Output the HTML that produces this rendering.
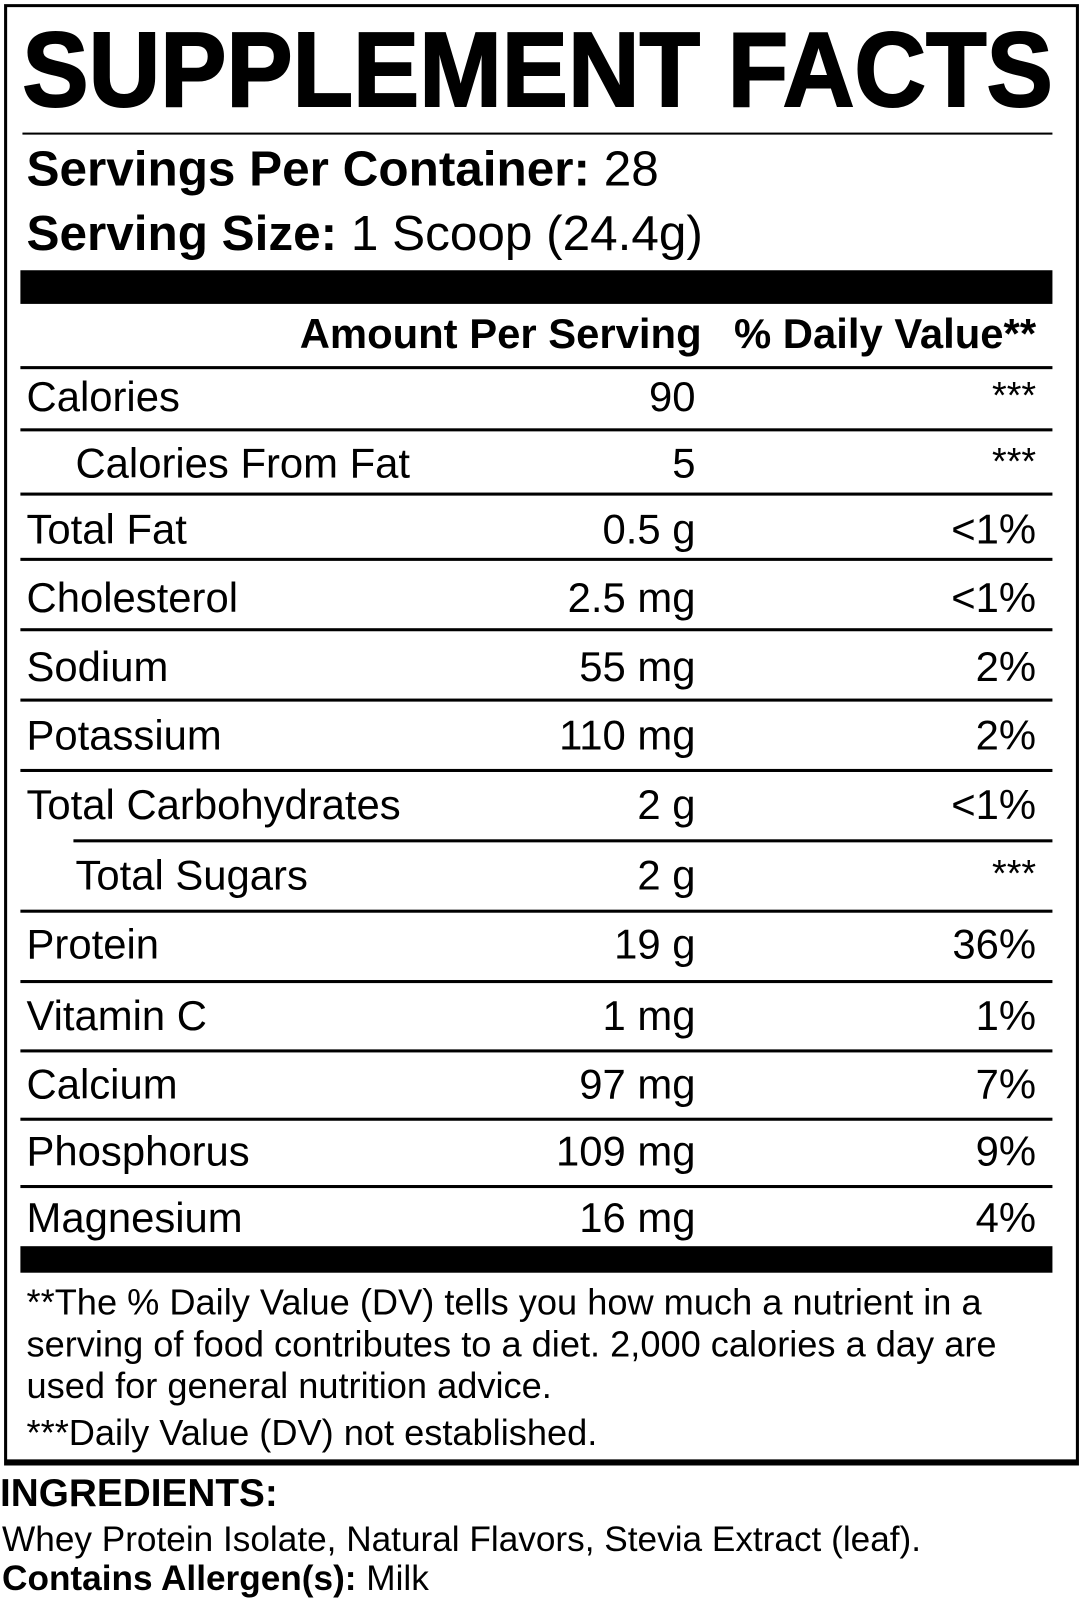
<!DOCTYPE html>
<html><head><meta charset="utf-8"><style>
html,body{margin:0;padding:0;background:#fff;}
body{width:1080px;height:1599px;overflow:hidden;position:relative;}
#c{position:absolute;left:0;top:0;width:1059px;height:1568px;transform:scale(1.0198);transform-origin:0 0;font-family:"Liberation Sans",Arial,sans-serif;color:#000;}
.t{position:absolute;line-height:1;white-space:nowrap;}
.ln{position:absolute;background:#000;height:3px;}
.r{font-size:41px;}
.a{position:absolute;line-height:1;font-size:41px;text-align:right;white-space:nowrap;}
.s{font-size:37px !important;}
</style></head><body><div id="c">
<div style="position:absolute;left:4px;top:4px;width:1048px;height:1424px;border:3px solid #000;border-bottom-width:6px;"></div>
<div class="t" style="left:22px;top:17px;font-size:104px;font-weight:bold;-webkit-text-stroke:2px #000;transform:scaleX(0.935);transform-origin:0 0;">SUPPLEMENT FACTS</div>
<div class="ln" style="left:22px;top:130px;width:1010px;height:2px;"></div>
<div class="t" style="left:26px;top:142px;font-size:48.5px;"><b>Servings Per Container:</b> 28</div>
<div class="t" style="left:26px;top:205px;font-size:48.5px;"><b>Serving Size:</b> 1 Scoop (24.4g)</div>
<div class="ln" style="left:20px;top:265px;width:1012px;height:33px;"></div>
<div class="t" style="left:0;width:688px;text-align:right;top:307px;font-size:41px;font-weight:bold;">Amount Per Serving</div>
<div class="t" style="left:0;width:1016px;text-align:right;top:307px;font-size:41px;font-weight:bold;">% Daily Value**</div>
<div class="ln" style="left:20px;top:359px;width:1012px;"></div>

<div class="t r" style="left:26px;top:369px;">Calories</div><div class="a" style="left:0;width:682px;top:369px;">90</div><div class="a s" style="left:0;width:1016px;top:369px;">***</div>
<div class="ln" style="left:20px;top:420px;width:1012px;"></div>
<div class="t r" style="left:74px;top:434px;">Calories From Fat</div><div class="a" style="left:0;width:682px;top:434px;">5</div><div class="a s" style="left:0;width:1016px;top:434px;">***</div>
<div class="ln" style="left:20px;top:483px;width:1012px;"></div>
<div class="t r" style="left:26px;top:499px;">Total Fat</div><div class="a" style="left:0;width:682px;top:499px;">0.5 g</div><div class="a" style="left:0;width:1016px;top:499px;">&lt;1%</div>
<div class="ln" style="left:20px;top:547px;width:1012px;"></div>
<div class="t r" style="left:26px;top:566px;">Cholesterol</div><div class="a" style="left:0;width:682px;top:566px;">2.5 mg</div><div class="a" style="left:0;width:1016px;top:566px;">&lt;1%</div>
<div class="ln" style="left:20px;top:616px;width:1012px;"></div>
<div class="t r" style="left:26px;top:634px;">Sodium</div><div class="a" style="left:0;width:682px;top:634px;">55 mg</div><div class="a" style="left:0;width:1016px;top:634px;">2%</div>
<div class="ln" style="left:20px;top:685px;width:1012px;"></div>
<div class="t r" style="left:26px;top:701px;">Potassium</div><div class="a" style="left:0;width:682px;top:701px;">110 mg</div><div class="a" style="left:0;width:1016px;top:701px;">2%</div>
<div class="ln" style="left:20px;top:754px;width:1012px;"></div>
<div class="t r" style="left:26px;top:769px;">Total Carbohydrates</div><div class="a" style="left:0;width:682px;top:769px;">2 g</div><div class="a" style="left:0;width:1016px;top:769px;">&lt;1%</div>
<div class="ln" style="left:72px;top:823px;width:960px;"></div>
<div class="t r" style="left:74px;top:838px;">Total Sugars</div><div class="a" style="left:0;width:682px;top:838px;">2 g</div><div class="a s" style="left:0;width:1016px;top:838px;">***</div>
<div class="ln" style="left:20px;top:892px;width:1012px;"></div>
<div class="t r" style="left:26px;top:906px;">Protein</div><div class="a" style="left:0;width:682px;top:906px;">19 g</div><div class="a" style="left:0;width:1016px;top:906px;">36%</div>
<div class="ln" style="left:20px;top:961px;width:1012px;"></div>
<div class="t r" style="left:26px;top:976px;">Vitamin C</div><div class="a" style="left:0;width:682px;top:976px;">1 mg</div><div class="a" style="left:0;width:1016px;top:976px;">1%</div>
<div class="ln" style="left:20px;top:1029px;width:1012px;"></div>
<div class="t r" style="left:26px;top:1043px;">Calcium</div><div class="a" style="left:0;width:682px;top:1043px;">97 mg</div><div class="a" style="left:0;width:1016px;top:1043px;">7%</div>
<div class="ln" style="left:20px;top:1096px;width:1012px;"></div>
<div class="t r" style="left:26px;top:1109px;">Phosphorus</div><div class="a" style="left:0;width:682px;top:1109px;">109 mg</div><div class="a" style="left:0;width:1016px;top:1109px;">9%</div>
<div class="ln" style="left:20px;top:1162px;width:1012px;"></div>
<div class="t r" style="left:26px;top:1174px;">Magnesium</div><div class="a" style="left:0;width:682px;top:1174px;">16 mg</div><div class="a" style="left:0;width:1016px;top:1174px;">4%</div>
<div class="ln" style="left:20px;top:1222px;width:1012px;height:26px;"></div>

<div class="t" style="left:26px;top:1260px;font-size:35.5px;">**The % Daily Value (DV) tells you how much a nutrient in a</div>
<div class="t" style="left:26px;top:1301px;font-size:35.5px;">serving of food contributes to a diet. 2,000 calories a day are</div>
<div class="t" style="left:26px;top:1342px;font-size:35.5px;">used for general nutrition advice.</div>
<div class="t" style="left:26px;top:1388px;font-size:35.5px;">***Daily Value (DV) not established.</div>

<div class="t" style="left:0;top:1446px;font-size:38px;font-weight:bold;">INGREDIENTS:</div>
<div class="t" style="left:2px;top:1493px;font-size:34.5px;">Whey Protein Isolate, Natural Flavors, Stevia Extract (leaf).</div>
<div class="t" style="left:2px;top:1531px;font-size:34.5px;"><b>Contains Allergen(s):</b> Milk</div>
</div></body></html>
